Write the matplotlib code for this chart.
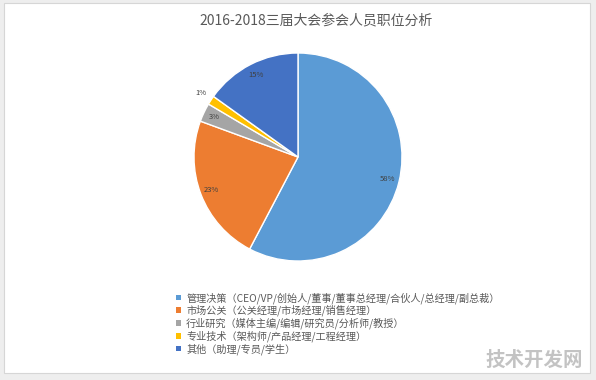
import matplotlib
matplotlib.use("Agg")
import matplotlib.pyplot as plt
from matplotlib.patches import Rectangle, Patch
import numpy as np

plt.rcParams['font.family'] = ['Noto Sans CJK SC', 'DejaVu Sans']

title = "2016-2018三届大会参会人员职位分析"
categories = [
    "管理决策（CEO/VP/创始人/董事/董事总经理/合伙人/总经理/副总裁）",
    "市场公关（公关经理/市场经理/销售经理）",
    "行业研究（媒体主编/编辑/研究员/分析师/教授）",
    "专业技术（架构师/产品经理/工程经理）",
    "其他（助理/专员/学生）",
]
values = [57.7, 22.9, 2.9, 1.4, 15.1]
pct_labels = ["58%", "23%", "3%", "1%", "15%"]
colors = ["#5B9BD5", "#ED7D31", "#A5A5A5", "#FFC000", "#4472C4"]

W, H = 596, 380
fig = plt.figure(figsize=(W / 100, H / 100), dpi=100)
fig.patch.set_facecolor("#eeeeee")
fig.add_artist(Rectangle((4 / W, 1 - 373 / H), 586 / W, 370 / H, transform=fig.transFigure,
                         facecolor="white", edgecolor="#d6d6d6", linewidth=0.8, zorder=0))

cx, cy, r = 298, 157, 104
ax = fig.add_axes([(cx - r) / W, 1 - (cy + r) / H, 2 * r / W, 2 * r / H])
wedges, _ = ax.pie(values, colors=colors, startangle=90, counterclock=False,
                   wedgeprops=dict(edgecolor="white", linewidth=1.0))
ax.set_aspect("equal")
ax.set_xlim(-1, 1)
ax.set_ylim(-1, 1)

for w, lab in zip(wedges, pct_labels):
    ang = np.deg2rad((w.theta1 + w.theta2) / 2)
    d = 1.12 if lab == "1%" else 0.89
    ax.text(d * np.cos(ang), d * np.sin(ang), lab, ha="center", va="center",
            fontsize=5.5, color="#404040")

fig.text(316 / W, 1 - 20 / H, title, ha="center", va="center", fontsize=10, color="#595959")

handles = [Patch(facecolor=c, edgecolor="none") for c in colors]
fig.legend(handles, categories, loc="upper left", bbox_to_anchor=(176 / W, 1 - 292 / H),
           frameon=False, fontsize=7.3, handlelength=0.5, handleheight=0.5,
           handletextpad=0.5, labelspacing=0.12, borderaxespad=0, borderpad=0,
           labelcolor="#595959")

fig.text(534 / W, 1 - 360 / H, "技术开发网", ha="center", va="center", fontsize=14,
         fontweight="bold", color="#b5b5b5", alpha=0.8)

fig.savefig("out.png", dpi=100, facecolor=fig.get_facecolor())
